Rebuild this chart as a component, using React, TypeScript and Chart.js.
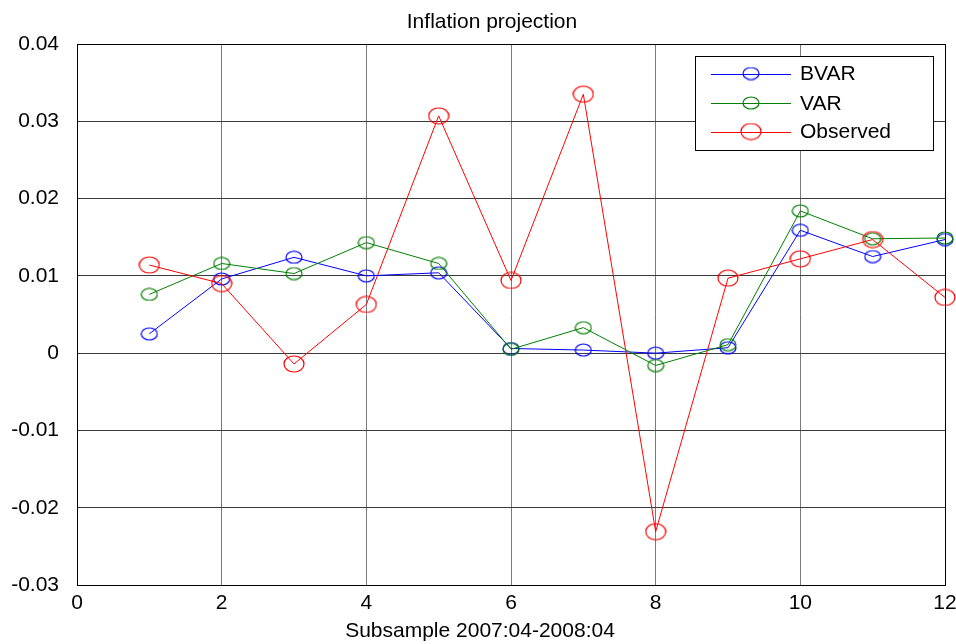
import React, { useEffect, useRef } from "react";
import { Chart, registerables } from "chart.js";

Chart.register(...registerables);

const X_VALUES = [1, 2, 3, 4, 5, 6, 7, 8, 9, 10, 11, 12];
const BVAR = [0.0025, 0.0096, 0.0124, 0.0100, 0.0104, 0.0006, 0.0004, 0.0000, 0.0007, 0.0159, 0.0125, 0.0147];
const VAR = [0.0076, 0.0116, 0.0103, 0.0143, 0.0116, 0.0005, 0.0033, -0.0016, 0.0011, 0.0184, 0.0148, 0.0149];
const OBSERVED = [0.0114, 0.0090, -0.0014, 0.0063, 0.0307, 0.0094, 0.0335, -0.0231, 0.0097, 0.0122, 0.0147, 0.0072];
const X_TICKS = [0, 2, 4, 6, 8, 10, 12];
const Y_TICKS = [-0.03, -0.02, -0.01, 0, 0.01, 0.02, 0.03, 0.04];
const SERIES_NAMES = ["BVAR", "VAR", "Observed"];
const TITLE = "Inflation projection";
const X_LABEL = "Subsample 2007:04-2008:04";

const FONT = "'Liberation Sans', Arial, sans-serif";

function makeMarker(color: string, w: number, h: number) {
  const c = document.createElement("canvas");
  c.width = w + 2;
  c.height = h + 2;
  const ctx = c.getContext("2d")!;
  ctx.strokeStyle = color;
  ctx.lineWidth = 1.2;
  ctx.beginPath();
  ctx.ellipse((w + 2) / 2, (h + 2) / 2, w / 2, h / 2, 0, 0, Math.PI * 2);
  ctx.stroke();
  return c;
}

export default function App() {
  const ref = useRef<HTMLCanvasElement | null>(null);

  useEffect(() => {
    if (!ref.current) return;
    const blueM = makeMarker("#0000ff", 16, 12);
    const greenM = makeMarker("#008000", 16, 12);
    const redM = makeMarker("#ff0000", 20, 16);
    const markers = [blueM, greenM, redM];
    const colors = ["#0000ff", "#008000", "#ff0000"];

    const toPts = (arr: number[]) => arr.map((y, i) => ({ x: X_VALUES[i], y }));

    const decor = {
      id: "decor",
      beforeDatasetsDraw(chart: any) {
        const { ctx, chartArea } = chart;
        ctx.save();
        ctx.strokeStyle = "#000";
        ctx.lineWidth = 1;
        ctx.strokeRect(
          Math.round(chartArea.left) + 0.5,
          Math.round(chartArea.top) + 0.5,
          Math.round(chartArea.right - chartArea.left),
          Math.round(chartArea.bottom - chartArea.top)
        );
        ctx.restore();
      },
      afterDraw(chart: any) {
        const { ctx } = chart;
        ctx.save();
        ctx.fillStyle = "#000";
        ctx.font = `21px ${FONT}`;
        ctx.textAlign = "center";
        ctx.textBaseline = "alphabetic";
        ctx.fillText(TITLE, 492, 28);
        ctx.fillText(X_LABEL, 480, 637);

        // legend
        const lx = 695, ly = 56, lw = 238, lh = 94;
        ctx.fillStyle = "#fff";
        ctx.fillRect(lx, ly, lw, lh);
        ctx.strokeStyle = "#000";
        ctx.lineWidth = 1;
        ctx.strokeRect(lx + 0.5, ly + 0.5, lw, lh);
        const rows = [73.5, 103, 131.5];
        SERIES_NAMES.forEach((name, i) => {
          const y = rows[i];
          ctx.strokeStyle = colors[i];
          ctx.beginPath();
          ctx.moveTo(711, Math.round(y) + 0.5);
          ctx.lineTo(791, Math.round(y) + 0.5);
          ctx.stroke();
          const m = markers[i];
          ctx.drawImage(m, 751 - m.width / 2, y - m.height / 2);
          ctx.fillStyle = "#000";
          ctx.textAlign = "left";
          ctx.textBaseline = "middle";
          ctx.fillText(name, 800, y + 1);
        });
        ctx.restore();
      },
    };

    const chart = new Chart(ref.current, {
      type: "line",
      data: {
        datasets: [
          {
            label: SERIES_NAMES[0],
            data: toPts(BVAR),
            borderColor: colors[0],
            backgroundColor: "rgba(0,0,0,0)",
            borderWidth: 1,
            pointStyle: blueM,
            pointRadius: 8,
            clip: false,
            order: 3,
          },
          {
            label: SERIES_NAMES[1],
            data: toPts(VAR),
            borderColor: colors[1],
            backgroundColor: "rgba(0,0,0,0)",
            borderWidth: 1,
            pointStyle: greenM,
            pointRadius: 8,
            clip: false,
            order: 2,
          },
          {
            label: SERIES_NAMES[2],
            data: toPts(OBSERVED),
            borderColor: colors[2],
            backgroundColor: "rgba(0,0,0,0)",
            borderWidth: 1,
            pointStyle: redM,
            pointRadius: 10,
            clip: false,
            order: 1,
          },
        ],
      },
      options: {
        animation: false,
        responsive: false,
        devicePixelRatio: 1,
        layout: { padding: { top: 44, right: 11, left: 0, bottom: 0 } },
        plugins: {
          legend: { display: false },
          title: { display: false },
          tooltip: { enabled: false },
        },
        elements: { line: { tension: 0 } },
        scales: {
          x: {
            type: "linear",
            min: 0,
            max: 12,
            afterBuildTicks: (scale: any) => {
              scale.ticks = X_TICKS.map((v) => ({ value: v }));
            },
            afterFit: (scale: any) => {
              scale.height = 59;
              scale.paddingLeft = 0;
              scale.paddingRight = 0;
            },
            grid: { color: "#7a7a7a", lineWidth: 1, drawTicks: false },
            border: { display: false },
            ticks: {
              color: "#000",
              font: { family: FONT, size: 21 },
              padding: 6,
              maxRotation: 0,
              autoSkip: false,
              callback: (v: any) => String(v),
            },
          },
          y: {
            type: "linear",
            min: -0.03,
            max: 0.04,
            afterBuildTicks: (scale: any) => {
              scale.ticks = Y_TICKS.map((v) => ({ value: v }));
            },
            afterFit: (scale: any) => {
              scale.width = 77;
              scale.paddingTop = 0;
              scale.paddingBottom = 0;
            },
            grid: { color: "#3a3a3a", lineWidth: 1, drawTicks: false },
            border: { display: false },
            ticks: {
              color: "#000",
              font: { family: FONT, size: 21 },
              padding: 18,
              autoSkip: false,
              callback: (v: any) => (Math.abs(v) < 1e-9 ? "0" : Number(v).toFixed(2)),
            },
          },
        },
      },
      plugins: [decor],
    } as any);

    return () => chart.destroy();
  }, []);

  return (
    <div style={{ position: "absolute", left: 0, top: 0, width: 956, height: 644, background: "#fff" }}>
      <canvas ref={ref} width={956} height={644} style={{ display: "block" }} />
    </div>
  );
}
